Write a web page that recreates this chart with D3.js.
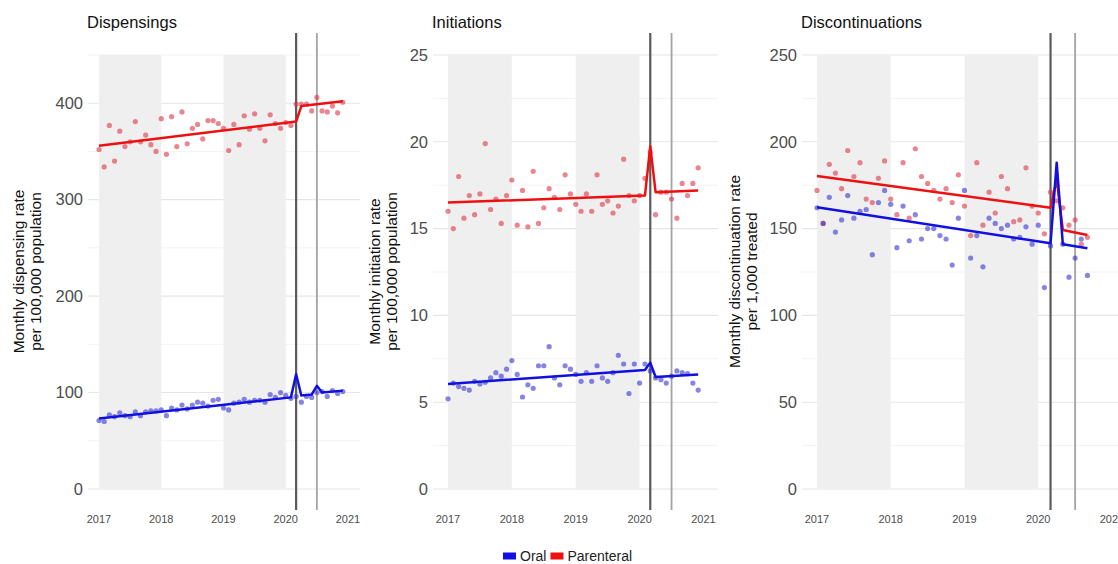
<!DOCTYPE html>
<html>
<head>
<meta charset="utf-8">
<script src="https://cdn.jsdelivr.net/npm/d3@7"></script>
<style>
    body { margin: 0; background: #fff; }
    text { font-family: "Liberation Sans", Arial, sans-serif; }
</style>
</head>
<body>
<svg id="chart" width="1118" height="564"></svg>
<script>
// ─── Data (monthly, starting January 2017) ────────────────────────────────────

const START_YEAR = 2017;
const yearTicks = [2017, 2018, 2019, 2020, 2021];
const shadedYears = [[2017, 2018], [2019, 2020]];
const interventionLines = [2020 + 2 / 12, 2020 + 6 / 12];

const dispensingOral = [71,70,77,75,79,76,75,80,76,80,81,81,82,76,84,82,87,83,87,90,89,86,92,93,
    84,82,89,90,93,90,92,92,90,98,95,100,97,94,96,90,96,95,100,101,96,102,99,101];
const dispensingParenteral = [352,334,377,340,371,355,360,381,360,367,357,350,384,347,386,355,391,358,374,378,363,382,382,379,
    374,351,378,357,387,373,389,374,361,388,379,374,380,377,399,399,399,392,406,392,391,397,390,401];

const initiationOral = [5.2,6.1,5.9,5.8,5.7,6.2,6.05,6.15,6.4,6.7,6.5,6.9,7.4,6.6,5.3,6.0,5.8,7.1,7.1,8.2,6.4,6.0,7.1,6.9,
    6.6,6.2,6.7,6.2,7.1,6.4,6.2,6.7,7.7,7.2,5.5,7.2,6.1,7.2,6.8,6.4,6.3,6.1,6.5,6.8,6.7,6.65,6.1,5.7];
const initiationParenteral = [16.0,15.0,18.0,15.6,16.9,15.8,17.0,19.9,16.1,16.7,15.3,16.9,17.8,15.2,17.2,15.1,18.3,15.3,16.2,17.3,16.8,16.1,18.1,17.0,
    16.4,16.0,17.0,16.0,18.1,16.4,16.6,15.9,16.3,19.0,16.9,16.6,16.9,17.9,19.4,15.8,17.1,17.1,16.7,15.6,17.6,16.9,17.6,18.5];

const discontinuationOral = [162,153,168,148,155,169,156,160,161,135,165,172,164,139,163,143,158,144,150,150,146,144,129,156,
    172,133,146,128,156,153,150,152,144,145,151,141,152,116,140,175,141,122,133,144,123];
const discontinuationParenteral = [172,153,187,182,173,195,180,188,167,165,179,189,167,158,188,156,196,180,176,172,167,173,165,181,
    163,146,188,152,171,159,180,173,154,155,185,163,159,147,171,166,162,152,155,141,145];

// Fitted segmented regression lines: [month index, fitted value]
const dispensingOralFit = [[0,73],[37,95],[38,119],[39,97],[41,98],[42,107],[43,100],[47,102]];
const dispensingParenteralFit = [[0,356],[38,381],[39,397],[47,402]];
const initiationOralFit = [[0,6.05],[37,6.85],[38,7.28],[39,6.45],[47,6.6]];
const initiationParenteralFit = [[0,16.5],[37,16.9],[38,19.75],[39,17.1],[47,17.2]];
const discontinuationOralFit = [[0,162.3],[38,141.5],[39,188],[40,141],[44,138.7]];
const discontinuationParenteralFit = [[0,180.3],[38,162],[39,178.5],[40,149.2],[44,146.3]];

const legendItems = ["Oral", "Parenteral"];

// ─── Layout ───────────────────────────────────────────────────────────────────

const COLORS = { Oral: "#1010e0", Parenteral: "#ee1010" };
const POINT_COLORS = { Oral: "#3535cf", Parenteral: "#dc3545" };

const PANEL_TOP = 33, PANEL_BOTTOM = 510;
const Y_ZERO = 489, Y_MAX_PX = 55;

const panels = [
    {
        title: "Dispensings",
        yTitle: ["Monthly dispensing rate", "per 100,000 population"],
        yTitleX: 19,
        left: 88, right: 360, x2017: 99, x2021: 348,
        yMax: 450, majorStep: 100,
        oral: dispensingOral, parenteral: dispensingParenteral,
        oralFit: dispensingOralFit, parenteralFit: dispensingParenteralFit
    },
    {
        title: "Initiations",
        yTitle: ["Monthly initiation rate", "per 100,000 population"],
        yTitleX: 375,
        left: 433, right: 718, x2017: 448, x2021: 703.5,
        yMax: 25, majorStep: 5,
        oral: initiationOral, parenteral: initiationParenteral,
        oralFit: initiationOralFit, parenteralFit: initiationParenteralFit
    },
    {
        title: "Discontinuations",
        yTitle: ["Monthly discontinuation rate", "per 1,000 treated"],
        yTitleX: 735,
        left: 802, right: 1130, x2017: 817, x2021: 1112,
        yMax: 250, majorStep: 50,
        oral: discontinuationOral, parenteral: discontinuationParenteral,
        oralFit: discontinuationOralFit, parenteralFit: discontinuationParenteralFit
    }
];

const svg = d3.select("#chart");
const monthToYear = i => START_YEAR + i / 12;

panels.forEach(p => {
    const x = d3.scaleLinear().domain([2017, 2021]).range([p.x2017, p.x2021]);
    const y = d3.scaleLinear().domain([0, p.yMax]).range([Y_ZERO, Y_MAX_PX]);
    const g = svg.append("g");

    // Gridlines: major at tick values, minor half way between
    const majors = d3.range(0, p.yMax + 0.001, p.majorStep);
    const minors = d3.range(p.majorStep / 2, p.yMax + 0.001, p.majorStep);

    g.selectAll(".minor").data(minors).join("line")
        .attr("x1", p.left).attr("x2", p.right)
        .attr("y1", d => y(d)).attr("y2", d => y(d))
        .attr("stroke", "#f3f3f3").attr("stroke-width", 1);

    g.selectAll(".major").data(majors).join("line")
        .attr("x1", p.left).attr("x2", p.right)
        .attr("y1", d => y(d)).attr("y2", d => y(d))
        .attr("stroke", "#e6e6e6").attr("stroke-width", 1.1);

    // Shaded alternate years
    g.selectAll(".band").data(shadedYears).join("rect")
        .attr("x", d => x(d[0]))
        .attr("width", d => x(d[1]) - x(d[0]))
        .attr("y", y(p.yMax))
        .attr("height", y(0) - y(p.yMax))
        .attr("fill", "#efefef");

    // Y tick labels
    g.selectAll(".ytick").data(majors).join("text")
        .attr("x", p.left - 5)
        .attr("y", d => y(d))
        .attr("dy", "0.35em")
        .attr("text-anchor", "end")
        .attr("font-size", 16.5)
        .attr("fill", "#4d4d4d")
        .text(d => d3.format("d")(d));

    // X tick labels
    g.selectAll(".xtick").data(yearTicks).join("text")
        .attr("x", d => x(d))
        .attr("y", 519)
        .attr("dy", "0.35em")
        .attr("text-anchor", "middle")
        .attr("font-size", 11)
        .attr("fill", "#4d4d4d")
        .text(d => d);

    // Intervention lines
    g.selectAll(".vline").data(interventionLines).join("line")
        .attr("x1", d => x(d)).attr("x2", d => x(d))
        .attr("y1", PANEL_TOP).attr("y2", PANEL_BOTTOM)
        .attr("stroke", (d, i) => i === 0 ? "#5a5a5a" : "#a3a3a3")
        .attr("stroke-width", (d, i) => i === 0 ? 2.2 : 1.8);

    // Points then fitted lines
    ["Parenteral", "Oral"].forEach(series => {
        const values = series === "Oral" ? p.oral : p.parenteral;
        g.append("g").selectAll("circle").data(values).join("circle")
            .attr("cx", (d, i) => x(monthToYear(i)))
            .attr("cy", d => y(d))
            .attr("r", 2.6)
            .attr("fill", POINT_COLORS[series])
            .attr("fill-opacity", 0.6);
    });

    ["Parenteral", "Oral"].forEach(series => {
        const fit = series === "Oral" ? p.oralFit : p.parenteralFit;
        g.append("path")
            .datum(fit)
            .attr("d", d3.line().x(d => x(monthToYear(d[0]))).y(d => y(d[1])))
            .attr("fill", "none")
            .attr("stroke", COLORS[series])
            .attr("stroke-width", 2.5)
            .attr("stroke-linejoin", "round");
    });

    // Panel title
    g.append("text")
        .attr("x", p.left - 1)
        .attr("y", 28)
        .attr("font-size", 16.5)
        .attr("fill", "#111")
        .text(p.title);

    // Y axis title (two lines, rotated)
    const midY = (PANEL_TOP + PANEL_BOTTOM) / 2;
    g.append("text")
        .attr("transform", `translate(${p.yTitleX},${midY}) rotate(-90)`)
        .attr("text-anchor", "middle")
        .attr("font-size", 15.5)
        .attr("fill", "#111")
        .selectAll("tspan").data(p.yTitle).join("tspan")
        .attr("x", 0)
        .attr("dy", (d, i) => i === 0 ? "0.35em" : "1.1em")
        .text(d => d);
});

// ─── Legend ───────────────────────────────────────────────────────────────────

const legend = svg.append("g").attr("transform", "translate(503,556)");
let offset = 0;
legendItems.forEach(item => {
    legend.append("rect")
        .attr("x", offset).attr("y", -3.5)
        .attr("width", 13).attr("height", 7)
        .attr("fill", COLORS[item]);
    const label = legend.append("text")
        .attr("x", offset + 17).attr("y", 0)
        .attr("dy", "0.35em")
        .attr("font-size", 14)
        .attr("fill", "#222")
        .text(item);
    offset += 17 + label.node().getComputedTextLength() + 4;
});
</script>
</body>
</html>
